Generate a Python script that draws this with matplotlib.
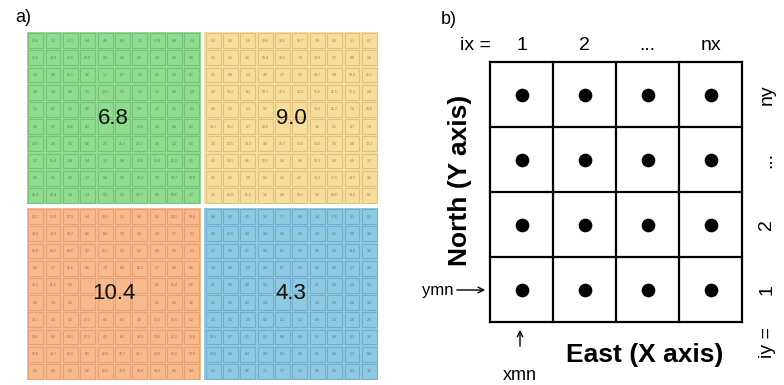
import matplotlib
matplotlib.use('Agg')
import matplotlib.pyplot as plt
from matplotlib.patches import Rectangle

plt.rcParams['font.family'] = ['Liberation Sans', 'DejaVu Sans']

# ---------------- data ----------------
quad_means = [6.8, 9.0, 10.4, 4.3]          # TL, TR, BL, BR
quad_colors = ['#8fdc90', '#f6dd9b', '#f8ba8c', '#8ec9e2']
quad_edges = ['#5aa866', '#c9a760', '#d48a63', '#5893bb']
quad_text = ['#4a8a52', '#a08548', '#a86a4c', '#4a7a9a']

cells_green = [
    [20.6, 1.2, 31.1, 0.4, 4.6, 0.2, 1.3, 17.8, 0.0, 2.4],
    [22.6, 14.0, 12.6, 15.0, 0.1, 4.2, 4.1, 2.2, 8.5, 3.8],
    [3.4, 0.6, 22.5, 3.6, 1.7, 0.7, 1.8, 0.1, 0.3, 0.1],
    [3.6, 5.9, 4.6, 2.1, 20.1, 5.2, 1.3, 2.1, 9.1, 1.8],
    [5.2, 0.1, 1.2, 0.6, 2.2, 3.1, 5.9, 2.2, 5.1, 2.1],
    [4.6, 5.7, 14.6, 8.1, 1.1, 0.8, 12.6, 1.2, 8.4, 0.1],
    [14.0, 2.6, 3.1, 0.6, 2.1, 21.4, 22.1, 3.6, 1.2, 5.5],
    [2.2, 15.4, 2.4, 5.4, 3.3, 3.6, 12.5, 20.4, 11.3, 3.1],
    [5.6, 5.2, 3.2, 1.7, 5.6, 2.3, 18.4, 7.6, 13.7, 15.0],
    [26.4, 26.4, 3.4, 7.4, 0.1, 2.3, 20.7, 8.5, 18.6, 3.7],
]
cells_yellow = [
    [5.2, 0.1, 5.6, 23.6, 24.0, 10.7, 7.8, 0.1, 1.1, 0.7],
    [3.1, 3.2, 9.6, 10.4, 18.6, 7.4, 19.8, 2.7, 8.6, 1.6],
    [0.1, 6.8, 1.4, 4.6, 3.7, 9.1, 24.7, 3.8, 10.4, 16.1],
    [3.0, 10.2, 8.2, 10.3, 12.5, 24.0, 15.6, 11.5, 17.3, 2.8],
    [0.0, 1.2, 1.2, 9.7, 6.3, 5.5, 14.6, 11.3, 7.6, 10.6],
    [16.1, 18.2, 3.7, 12.6, 12.1, 2.7, 3.6, 0.1, 8.7, 7.4],
    [3.0, 24.5, 14.3, 4.6, 16.1, 13.6, 14.6, 2.6, 3.6, 12.2],
    [4.1, 18.1, 4.6, 16.5, 2.4, 2.6, 10.3, 1.6, 6.6, 3.7],
    [0.6, 6.5, 3.0, 0.1, 4.1, 4.4, 15.2, 17.6, 14.7, 3.6],
    [3.1, 22.8, 11.5, 1.6, 4.6, 15.1, 5.6, 28.6, 14.0, 0.1],
]
cells_orange = [
    [20.2, 31.0, 27.3, 4.4, 30.0, 1.1, 5.6, 0.1, 24.2, 18.0],
    [24.6, 28.0, 18.7, 0.6, 6.6, 7.0, 5.4, 1.0, 2.7, 2.1],
    [16.6, 22.2, 46.6, 3.2, 50.1, 1.2, 6.2, 6.6, 8.3, 2.1],
    [6.6, 2.7, 11.6, 0.6, 7.0, 6.6, 11.3, 2.7, 6.6, 0.6],
    [35.2, 11.0, 5.5, 0.6, 4.2, 7.0, 2.1, 0.1, 16.4, 5.6],
    [3.0, 7.4, 6.5, 0.6, 6.0, 1.2, 5.4, 0.1, 6.6, 3.6],
    [32.1, 4.4, 4.2, 17.1, 6.6, 0.4, 3.0, 12.6, 16.6, 5.2],
    [23.6, 6.6, 15.1, 27.1, 4.2, 6.1, 14.3, 13.6, 21.2, 20.6],
    [10.6, 20.7, 21.1, 0.1, 26.6, 10.7, 24.1, 26.6, 35.1, 12.6],
    [5.1, 6.6, 2.3, 5.6, 12.6, 20.0, 16.4, 16.5, 6.6, 9.4],
]
cells_blue = [
    [3.6, 0.2, 4.5, 1.6, 7.7, 6.6, 1.4, 17.6, 3.1, 0.1],
    [0.0, 33.0, 0.2, 1.6, 0.6, 0.1, 3.4, 1.1, 0.6, 3.6],
    [1.7, 6.6, 0.1, 0.0, 0.1, 2.0, 0.6, 1.6, 14.6, 1.6],
    [2.4, 6.6, 5.0, 1.6, 0.7, 0.1, 0.2, 0.2, 1.7, 1.6],
    [0.1, 0.0, 0.0, 0.1, 0.7, 0.1, 0.1, 1.6, 1.6, 0.1],
    [2.1, 0.6, 0.1, 2.4, 0.1, 2.7, 1.4, 7.6, 2.6, 3.2],
    [1.6, 0.1, 2.5, 0.0, 1.1, 1.2, 6.0, 1.6, 1.6, 2.0],
    [10.1, 6.7, 0.1, 0.1, 0.0, 0.0, 0.1, 1.6, 0.1, 1.6],
    [18.6, 1.6, 6.2, 0.0, 0.1, 6.0, 0.1, 6.6, 1.2, 6.6],
    [1.1, 0.1, 0.6, 2.1, 7.7, 1.4, 0.6, 2.6, 0.3, 3.2],
]
quad_cells = [cells_green, cells_yellow, cells_orange, cells_blue]

ix_labels = ['1', '2', '...', 'nx']
iy_labels = ['1', '2', '...', 'ny']
n_cols_b = 4
n_rows_b = 4

# ---------------- figure ----------------
W, H = 784, 385
fig = plt.figure(figsize=(W / 100, H / 100), dpi=100)


def ax_at(x0, y0, x1, y1):
    return fig.add_axes([x0 / W, 1 - y1 / H, (x1 - x0) / W, (y1 - y0) / H])


fig.text(15 / W, 1 - 17 / H, 'a)', fontsize=13, ha='left', va='center')
fig.text(441 / W, 1 - 20 / H, 'b)', fontsize=13, ha='left', va='center')

# ---------------- panel a ----------------
axA = ax_at(27, 32, 378, 380)
gap = 0.23
n = 10
span = 2 * n + gap
axA.set_xlim(0, span)
axA.set_ylim(span, 0)
axA.axis('off')

for q in range(4):
    qr, qc = divmod(q, 2)
    ox = qc * (n + gap)
    oy = qr * (n + gap)
    axA.add_patch(Rectangle((ox, oy), n, n, fc=quad_colors[q], ec='none'))
    cells = quad_cells[q]
    label = f'{quad_means[q]:.1f}'
    hw = 0.29 * len(label)
    for i in range(n):
        for j in range(n):
            axA.add_patch(Rectangle((ox + j + 0.07, oy + i + 0.07), 0.86, 0.86,
                                    fc='none', ec=quad_edges[q], lw=0.6, alpha=0.6))
            under_label = (j + 1 > n / 2 - hw and j < n / 2 + hw and
                           i + 1 > n / 2 - 0.5 and i < n / 2 + 0.5)
            if not under_label:
                axA.text(ox + j + 0.5, oy + i + 0.5, f'{cells[i][j]:.1f}',
                         fontsize=2.6, color=quad_text[q], ha='center', va='center')
    axA.text(ox + n / 2, oy + n / 2, label, fontsize=16,
             ha='center', va='center', color='#111111')

# ---------------- panel b ----------------
axB = ax_at(490, 62, 742, 322)
axB.set_xlim(0, n_cols_b)
axB.set_ylim(0, n_rows_b)
axB.axis('off')
for k in range(n_cols_b + 1):
    axB.plot([k, k], [0, n_rows_b], color='black', lw=1.6, clip_on=False,
             solid_capstyle='projecting')
for k in range(n_rows_b + 1):
    axB.plot([0, n_cols_b], [k, k], color='black', lw=1.6, clip_on=False,
             solid_capstyle='projecting')
xs = [c + 0.5 for r in range(n_rows_b) for c in range(n_cols_b)]
ys = [r + 0.5 for r in range(n_rows_b) for c in range(n_cols_b)]
axB.scatter(xs, ys, s=78, color='black', zorder=3)

pxx = 63.0   # pixels per unit x
pxy = 65.0   # pixels per unit y

for c, lab in enumerate(ix_labels):
    axB.text(c + 0.5, n_rows_b + 17 / pxy, lab, fontsize=14, ha='center',
             va='center', clip_on=False)
axB.text(-15 / pxx, n_rows_b + 17 / pxy, 'ix =', fontsize=14, ha='center',
         va='center')

for r, lab in enumerate(iy_labels):
    axB.text(n_cols_b + 25 / pxx, r + 0.5, lab, fontsize=14, ha='center',
             va='center', rotation=90)
axB.text(n_cols_b + 25 / pxx, -20 / pxy, 'iy =', fontsize=14, ha='center',
         va='center', rotation=90)

axB.text(-30 / pxx, 142 / pxy, 'North (Y axis)', fontsize=19, fontweight='bold',
         ha='center', va='center', rotation=90)
axB.text(155 / pxx, -33 / pxy, 'East (X axis)', fontsize=19, fontweight='bold',
         ha='center', va='center')

# xmn arrow
axB.text(30 / pxx, -54 / pxy, 'xmn', fontsize=13, ha='center', va='center')
axB.annotate('', xy=(30 / pxx, -5 / pxy), xytext=(30 / pxx, -27 / pxy),
             arrowprops=dict(arrowstyle='->', lw=1.0, color='black'),
             annotation_clip=False)
# ymn arrow
axB.text(-52 / pxx, 32 / pxy, 'ymn', fontsize=12, ha='center', va='center')
axB.annotate('', xy=(-2 / pxx, 32 / pxy), xytext=(-36 / pxx, 32 / pxy),
             arrowprops=dict(arrowstyle='->', lw=1.0, color='black'),
             annotation_clip=False)

fig.savefig('out.png', dpi=100)
